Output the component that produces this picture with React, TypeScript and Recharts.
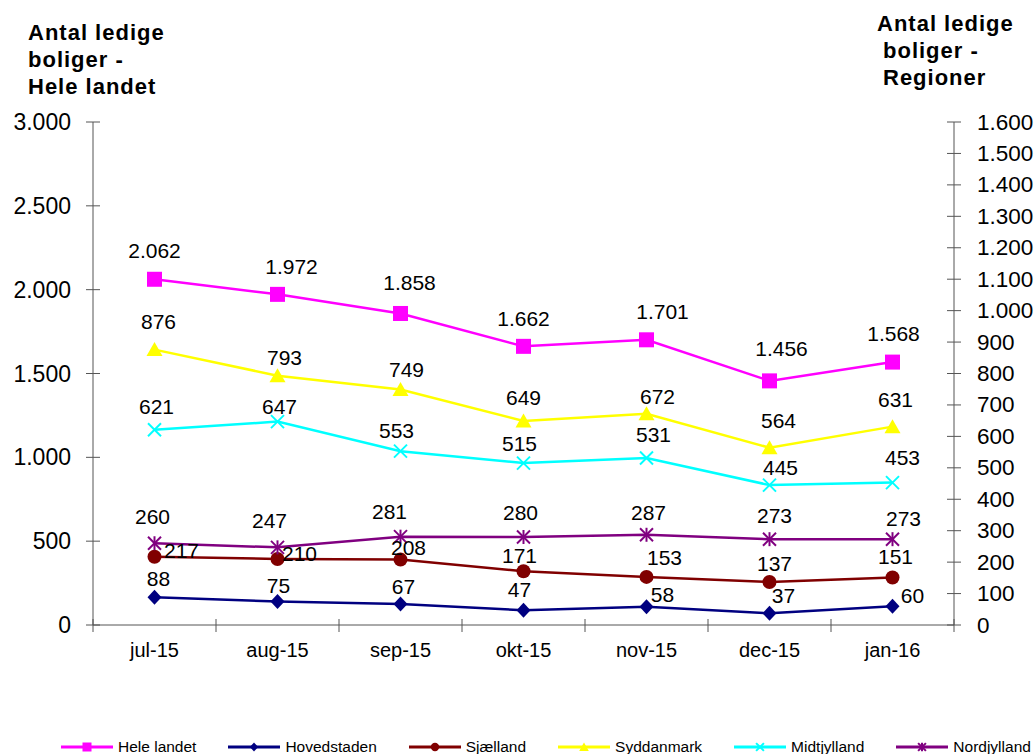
import React from "react";
import { LineChart, Line, XAxis, YAxis, LabelList } from "recharts";

// Data
const months = ["jul-15", "aug-15", "sep-15", "okt-15", "nov-15", "dec-15", "jan-16"];
const heleLandet = [2062, 1972, 1858, 1662, 1701, 1456, 1568];
const hovedstaden = [88, 75, 67, 47, 58, 37, 60];
const sjaelland = [217, 210, 208, 171, 153, 137, 151];
const syddanmark = [876, 793, 749, 649, 672, 564, 631];
const midtjylland = [621, 647, 553, 515, 531, 445, 453];
const nordjylland = [260, 247, 281, 280, 287, 273, 273];

const leftTicks = [0, 500, 1000, 1500, 2000, 2500, 3000];
const rightTicks = [0, 100, 200, 300, 400, 500, 600, 700, 800, 900, 1000, 1100, 1200, 1300, 1400, 1500, 1600];

// label placement relative to each point [dx, dy] (as Excel placed them)
const heleNudge = [[0, -29], [14, -28], [9, -31], [0, -28], [16, -28], [12, -32], [1, -29]];
const hovedNudge = [[4, -19], [1, -16], [3, -17], [-4, -21], [16, -12], [14, -18], [20, -11]];
const sjaelNudge = [[27, -6], [22, -5], [8, -12], [-4, -16], [18, -19], [5, -18], [3, -21]];
const sydNudge = [[4, -28], [7, -18], [6, -20], [0, -23], [11, -17], [9, -27], [3, -27]];
const midtNudge = [[2, -23], [2, -15], [-4, -21], [-4, -20], [7, -24], [11, -18], [10, -25]];
const nordNudge = [[-2, -27], [-8, -27], [-11, -25], [-3, -24], [2, -22], [5, -24], [11, -21]];

// Layout
const W = 1036;
const H = 754;
const CHART_H = 670;
const PLOT_LEFT = 93;
const PLOT_RIGHT = 954;
const PLOT_TOP = 122;
const PLOT_BOTTOM = 625;
const BAND = (PLOT_RIGHT - PLOT_LEFT) / months.length;
const AXIS = "#555555";
const FONT = '"Liberation Sans", Arial, Helvetica, sans-serif';

const series = [
  { key: "hele", name: "Hele landet", values: heleLandet, color: "#FF00FF", axis: "left", marker: "square", nudge: heleNudge },
  { key: "hoved", name: "Hovedstaden", values: hovedstaden, color: "#000080", axis: "right", marker: "diamond", nudge: hovedNudge },
  { key: "sjael", name: "Sjælland", values: sjaelland, color: "#800000", axis: "right", marker: "circle", nudge: sjaelNudge },
  { key: "syd", name: "Syddanmark", values: syddanmark, color: "#FFFF00", axis: "right", marker: "triangle", nudge: sydNudge },
  { key: "midt", name: "Midtjylland", values: midtjylland, color: "#00FFFF", axis: "right", marker: "x", nudge: midtNudge },
  { key: "nord", name: "Nordjylland", values: nordjylland, color: "#800080", axis: "right", marker: "star", nudge: nordNudge },
];

const data = months.map((m, i) => {
  const row: Record<string, any> = { month: m };
  series.forEach((s) => (row[s.key] = s.values[i]));
  return row;
});

const fmt = (v: number) => String(v).replace(/\B(?=(\d{3})+(?!\d))/g, ".");

function Marker({ type, cx, cy, color, s = 1 }: any) {
  switch (type) {
    case "square":
      return <rect x={cx - 7.5 * s} y={cy - 7.5 * s} width={15 * s} height={15 * s} fill={color} />;
    case "diamond":
      return (
        <polygon
          points={`${cx},${cy - 7.5 * s} ${cx + 7 * s},${cy} ${cx},${cy + 7.5 * s} ${cx - 7 * s},${cy}`}
          fill={color}
        />
      );
    case "circle":
      return <circle cx={cx} cy={cy} r={7 * s} fill={color} />;
    case "triangle":
      return (
        <polygon
          points={`${cx},${cy - 7.5 * s} ${cx + 8 * s},${cy + 6.5 * s} ${cx - 8 * s},${cy + 6.5 * s}`}
          fill={color}
        />
      );
    case "x":
      return (
        <g stroke={color} strokeWidth={2}>
          <line x1={cx - 6.5 * s} y1={cy - 6.5 * s} x2={cx + 6.5 * s} y2={cy + 6.5 * s} />
          <line x1={cx - 6.5 * s} y1={cy + 6.5 * s} x2={cx + 6.5 * s} y2={cy - 6.5 * s} />
        </g>
      );
    case "star":
      return (
        <g stroke={color} strokeWidth={2}>
          <line x1={cx - 6.5 * s} y1={cy - 6.5 * s} x2={cx + 6.5 * s} y2={cy + 6.5 * s} />
          <line x1={cx - 6.5 * s} y1={cy + 6.5 * s} x2={cx + 6.5 * s} y2={cy - 6.5 * s} />
          <line x1={cx} y1={cy - 7 * s} x2={cx} y2={cy + 7 * s} />
        </g>
      );
    default:
      return null;
  }
}

const LeftTick = (props: any) => {
  const { y, payload } = props;
  return (
    <g>
      <line x1={PLOT_LEFT - 7} x2={PLOT_LEFT + 7} y1={y} y2={y} stroke={AXIS} />
      <text x={PLOT_LEFT - 22} y={y} textAnchor="end" dominantBaseline="central" fontSize={23} fill="#000" fontFamily={FONT}>
        {fmt(payload.value)}
      </text>
    </g>
  );
};

const RightTick = (props: any) => {
  const { y, payload } = props;
  return (
    <g>
      <line x1={PLOT_RIGHT - 7} x2={PLOT_RIGHT + 7} y1={y} y2={y} stroke={AXIS} />
      <text x={PLOT_RIGHT + 23} y={y} textAnchor="start" dominantBaseline="central" fontSize={22.5} fill="#000" fontFamily={FONT}>
        {fmt(payload.value)}
      </text>
    </g>
  );
};

const XTick = (props: any) => {
  const { x, payload, index } = props;
  return (
    <g>
      <line x1={x - BAND / 2} x2={x - BAND / 2} y1={PLOT_BOTTOM - 6} y2={PLOT_BOTTOM + 7} stroke={AXIS} />
      {index === months.length - 1 && (
        <line x1={x + BAND / 2} x2={x + BAND / 2} y1={PLOT_BOTTOM - 6} y2={PLOT_BOTTOM + 7} stroke={AXIS} />
      )}
      <text x={x} y={PLOT_BOTTOM + 25} textAnchor="middle" dominantBaseline="central" fontSize={20} fill="#000" fontFamily={FONT}>
        {payload.value}
      </text>
    </g>
  );
};

const makeLabel = (nudge: number[][]) => (props: any) => {
  const { x, y, value, index } = props;
  const [dx, dy] = nudge[index] || [0, -20];
  return (
    <text
      key={`lbl-${index}`}
      x={x + dx}
      y={y + dy}
      textAnchor="middle"
      dominantBaseline="central"
      fontSize={21}
      fill="#000"
      fontFamily={FONT}
    >
      {fmt(value)}
    </text>
  );
};

const titleStyle: React.CSSProperties = {
  position: "absolute",
  fontFamily: FONT,
  fontWeight: "bold",
  fontSize: 22,
  letterSpacing: 1,
  lineHeight: "27px",
  color: "#000",
  whiteSpace: "pre",
};

export default function App() {
  return (
    <div style={{ position: "fixed", left: 0, top: 0, width: W, height: H, overflow: "hidden", background: "#fff" }}>
      <div style={{ ...titleStyle, left: 28, top: 19 }}>
        <div>Antal ledige</div>
        <div>boliger -</div>
        <div>Hele landet</div>
      </div>
      <div style={{ ...titleStyle, left: 877, top: 10 }}>
        <div>Antal ledige</div>
        <div style={{ paddingLeft: 6 }}>boliger -</div>
        <div style={{ paddingLeft: 6 }}>Regioner</div>
      </div>

      <div style={{ position: "absolute", left: 0, top: 0 }}>
        <LineChart width={W} height={CHART_H} data={data} margin={{ top: PLOT_TOP, right: 0, bottom: 0, left: 0 }}>
          <XAxis
            dataKey="month"
            height={CHART_H - PLOT_BOTTOM}
            padding={{ left: BAND / 2, right: BAND / 2 }}
            interval={0}
            tickLine={false}
            axisLine={{ stroke: AXIS }}
            tick={<XTick />}
          />
          <YAxis
            yAxisId="left"
            width={PLOT_LEFT}
            domain={[0, 3000]}
            ticks={leftTicks}
            interval={0}
            tickLine={false}
            axisLine={{ stroke: AXIS }}
            tick={<LeftTick />}
          />
          <YAxis
            yAxisId="right"
            orientation="right"
            width={W - PLOT_RIGHT}
            domain={[0, 1600]}
            ticks={rightTicks}
            interval={0}
            tickLine={false}
            axisLine={{ stroke: AXIS }}
            tick={<RightTick />}
          />
          {series.map((s) => (
            <Line
              key={s.key}
              yAxisId={s.axis}
              dataKey={s.key}
              name={s.name}
              type="linear"
              stroke={s.color}
              strokeWidth={2.5}
              isAnimationActive={false}
              dot={(p: any) => (
                <Marker key={`${s.key}-${p.index}`} type={s.marker} cx={p.cx} cy={p.cy} color={s.color} />
              )}
              activeDot={false}
            >
              <LabelList dataKey={s.key} content={makeLabel(s.nudge)} />
            </Line>
          ))}
        </LineChart>
      </div>

      <div
        style={{
          position: "absolute",
          left: 61,
          top: 737,
          height: 20,
          display: "flex",
          alignItems: "center",
          gap: 32,
          fontFamily: FONT,
          fontSize: 15.5,
          color: "#000",
          whiteSpace: "nowrap",
        }}
      >
        {series.map((s) => (
          <div key={s.key} style={{ display: "flex", alignItems: "center" }}>
            <svg width={52} height={16} style={{ marginRight: 5 }}>
              <line x1={0} x2={52} y1={8} y2={8} stroke={s.color} strokeWidth={3} />
              <Marker type={s.marker} cx={26} cy={8} color={s.color} s={0.6} />
            </svg>
            <span>{s.name}</span>
          </div>
        ))}
      </div>
    </div>
  );
}
